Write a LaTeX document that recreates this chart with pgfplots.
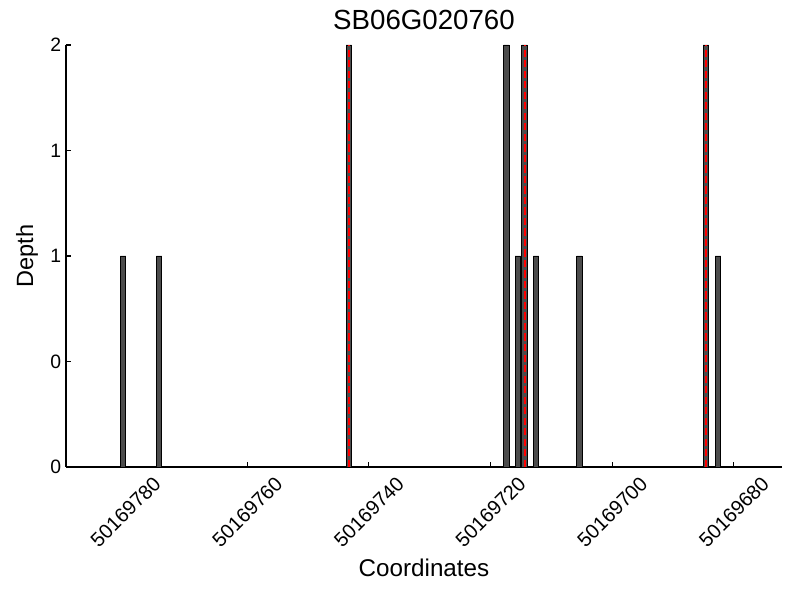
\documentclass[border=0pt]{standalone}
\usepackage{fontspec}
\setmainfont{Liberation Sans}
\usepackage{pgfplots}
\pgfplotsset{compat=1.18}
% x values are genomic coordinates minus 50169600 (tick labels give the full coordinates)
\begin{document}
\begin{tikzpicture}
\path[use as bounding box] (0,0) rectangle (8in,6in);
\begin{axis}[
  at={(0.66in,1.33in)}, anchor=south west,
  scale only axis, width=7.16in, height=4.22in,
  x dir=reverse,
  xmin=72.1, xmax=189.8, ymin=0, ymax=2,
  axis x line*=bottom, axis y line*=left,
  axis line style={line width=0.8pt, -},
  tick align=inside, major tick length=3.5pt,
  tick style={black, line width=0.8pt},
  xtick={80,100,120,140,160,180},
  xticklabels={\rotatebox{45}{50169680},\rotatebox{45}{50169700},\rotatebox{45}{50169720},\rotatebox{45}{50169740},\rotatebox{45}{50169760},\rotatebox{45}{50169780}},
  xticklabel style={anchor=north, font=\fontsize{14.5}{16}\selectfont, yshift=-2.5pt},
  ytick={0,0.5,1,1.5,2},
  yticklabels={0,0,1,1,2},
  yticklabel style={font=\fontsize{14}{16}\selectfont},
  xlabel={Coordinates},
  xlabel style={at={(axis description cs:0.5,-0.2393)}, anchor=center, font=\fontsize{17.5}{20}\selectfont},
  ylabel={Depth},
  ylabel style={at={(axis description cs:-0.0545,0.5)}, anchor=center, font=\fontsize{17}{20}\selectfont},
  title={SB06G020760},
  title style={at={(axis description cs:0.5,1.0403)}, anchor=center, font=\fontsize{20}{24}\selectfont},
  clip=false,
]
\addplot[ybar, bar shift=0pt, bar width=0.9, fill=black!70, draw=black, line width=0.7pt]
  coordinates {
  (180.4,1) (174.5,1) (143.3,2) (117.4,2) (115.5,1)
  (114.4,2) (112.5,1) (105.4,1) (84.6,2) (82.6,1)
  };
\addplot[red, line width=1.44pt, dash pattern=on 5.3pt off 2.3pt] coordinates {(143.3,0) (143.3,2)};
\addplot[red, line width=1.44pt, dash pattern=on 5.3pt off 2.3pt] coordinates {(114.4,0) (114.4,2)};
\addplot[red, line width=1.44pt, dash pattern=on 5.3pt off 2.3pt] coordinates {(84.6,0) (84.6,2)};
\end{axis}
\end{tikzpicture}
\end{document}
